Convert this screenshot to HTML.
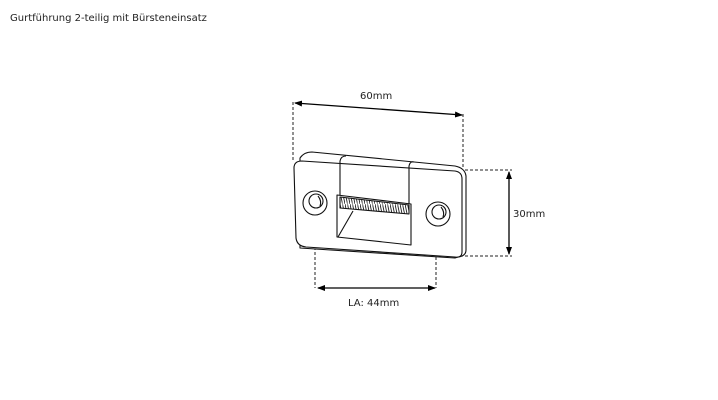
<!DOCTYPE html>
<html><head><style>
body{margin:0;background:#fff;width:718px;height:400px;overflow:hidden}
svg{display:block}
text{font-family:"DejaVu Sans","Liberation Sans",sans-serif;font-size:10px;fill:#222}
</style></head><body>
<svg width="718" height="400" viewBox="0 0 718 400">
<defs>
<marker id="a" markerWidth="8" markerHeight="8" refX="7" refY="4" orient="auto-start-reverse" markerUnits="userSpaceOnUse">
<path d="M0,1 L8,4 L0,7 z" fill="#000"/></marker>
<pattern id="br" width="2.5" height="12" patternUnits="userSpaceOnUse"><line x1="0" y1="0" x2="2.5" y2="12" stroke="#222" stroke-width="0.9"/></pattern>
</defs>
<text x="10" y="21">Gurtführung 2-teilig mit Bürsteneinsatz</text>
<g stroke="#222" stroke-width="1" stroke-dasharray="3,2" fill="none">
<line x1="293" y1="102" x2="293" y2="162"/>
<line x1="463" y1="114" x2="463" y2="168"/>
<line x1="465" y1="170" x2="512" y2="170"/>
<line x1="460" y1="256" x2="512" y2="256"/>
<line x1="315" y1="212" x2="315" y2="288"/>
<line x1="436" y1="222" x2="436" y2="288"/>
</g>
<g stroke="#000" stroke-width="1.3" fill="none">
<line x1="295" y1="103" x2="462" y2="115" marker-end="url(#a)" marker-start="url(#a)"/>
<line x1="509" y1="172" x2="509" y2="254" marker-end="url(#a)" marker-start="url(#a)"/>
<line x1="318" y1="288" x2="435" y2="288" marker-end="url(#a)" marker-start="url(#a)"/>
</g>
<text x="360" y="99">60mm</text>
<text x="513" y="217">30mm</text>
<text x="348" y="306">LA: 44mm</text>
<g stroke="#111" stroke-width="1.1" fill="#fff" stroke-linejoin="round">
<path d="M300,158 Q304,152 312,152 L455,166 Q465,168 466,176 L466,250 Q466,256 458,257 L455,258 L300,248 Z"/>
<path d="M294,168 Q294,161 302,161 L455,171 Q462,172 462,179 L462,252 Q462,258 455,257 L306,247 Q297,246 296,238 Z"/>
<path d="M340,161 Q341,156 346,156" fill="none"/>
<path d="M409,166 Q410,161 414,162" fill="none"/>
<line x1="340" y1="161" x2="340" y2="197"/>
<line x1="409" y1="166" x2="409" y2="205"/>
<path d="M337,195 L411,204 L411,245 L337,237 Z"/>
<path d="M340,197 L409,205 L409,214 L340,208 Z" fill="url(#br)"/>
<line x1="338" y1="237" x2="353" y2="211"/>
<circle cx="315" cy="203" r="12"/>
<circle cx="316" cy="201" r="7"/>
<path d="M318,196 Q322,201 320,206" fill="none"/>
<circle cx="438" cy="214" r="12"/>
<circle cx="439" cy="212" r="7"/>
<path d="M441,207 Q445,212 443,217" fill="none"/>
</g>
</svg>
</body></html>
